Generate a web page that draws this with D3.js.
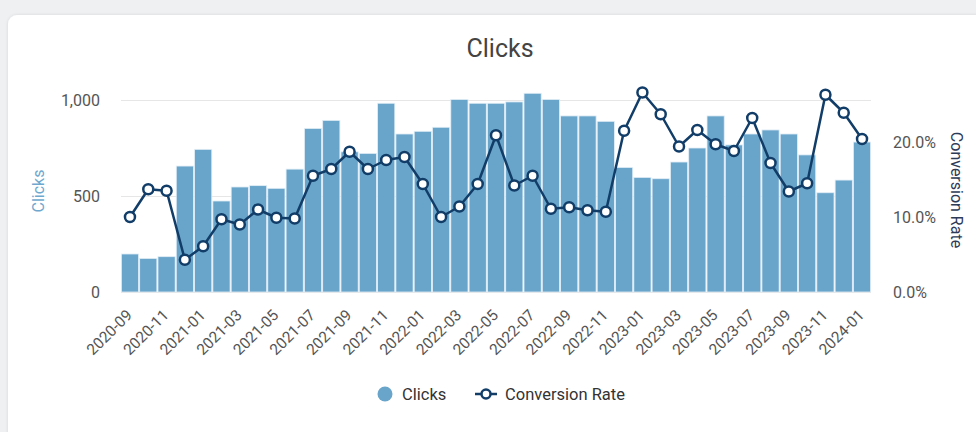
<!DOCTYPE html>
<html>
<head>
<meta charset="utf-8">
<script src="https://cdn.jsdelivr.net/npm/d3@7"></script>
<style>
  html, body { margin: 0; padding: 0; background: #eef0f2; }
  svg { display: block; font-family: Roboto, "Noto Sans", sans-serif; }
</style>
</head>
<body>
<svg id="chart" width="976" height="432"></svg>
<script>
const months = ["2020-09","2020-10","2020-11","2020-12","2021-01","2021-02","2021-03","2021-04","2021-05","2021-06","2021-07","2021-08","2021-09","2021-10","2021-11","2021-12","2022-01","2022-02","2022-03","2022-04","2022-05","2022-06","2022-07","2022-08","2022-09","2022-10","2022-11","2022-12","2023-01","2023-02","2023-03","2023-04","2023-05","2023-06","2023-07","2023-08","2023-09","2023-10","2023-11","2023-12","2024-01"];
const clicks = [198,175,184,656,743,474,547,554,540,640,852,894,730,722,983,823,837,858,1003,983,983,990,1035,1003,917,917,889,649,597,590,677,750,917,766,823,844,823,714,517,583,781];
const conversionRate = [10.0,13.7,13.5,4.3,6.1,9.7,9.0,11.0,9.9,9.8,15.5,16.4,18.7,16.4,17.6,18.0,14.4,10.0,11.4,14.4,20.9,14.2,15.5,11.1,11.3,10.9,10.7,21.5,26.6,23.7,19.4,21.6,19.7,18.8,23.2,17.2,13.4,14.5,26.3,23.9,20.4];
const clickTicks = [0, 500, 1000];
const rateTicks = [0, 10, 20];
const xTickLabels = months.filter((m, i) => i % 2 === 0);

const svg = d3.select("#chart");
const left = 121, right = 871, bottom = 292;

const barColor = "#69a5cb";
const lineColor = "#113d68";

// card
const defs = svg.append("defs");
const f = defs.append("filter").attr("id", "sh").attr("x", "-5%").attr("y", "-5%").attr("width", "110%").attr("height", "110%");
f.append("feDropShadow").attr("dx", 0).attr("dy", 0).attr("stdDeviation", 1.5).attr("flood-color", "#000").attr("flood-opacity", 0.12);
svg.append("rect").attr("x", 8).attr("y", 15).attr("width", 1010).attr("height", 440)
  .attr("rx", 9).attr("fill", "#fff").attr("filter", "url(#sh)");

const x = d3.scaleBand().domain(months).range([left, right]).paddingInner(0.06).paddingOuter(0.02);
const yL = d3.scaleLinear().domain([0, 1000]).range([bottom, 100]);
const yR = d3.scaleLinear().domain([0, 20]).range([bottom, 142]);

// title
svg.append("text").attr("x", 500).attr("y", 57).attr("text-anchor", "middle")
  .attr("font-size", 25).attr("fill", "#444").text("Clicks");

// grid
svg.append("g").selectAll("line").data(clickTicks).join("line")
  .attr("x1", left).attr("x2", right)
  .attr("y1", d => yL(d) + 0.5).attr("y2", d => yL(d) + 0.5)
  .attr("stroke", "#e6e6e6").attr("stroke-width", 1);

// left axis
const axL = svg.append("g").attr("transform", `translate(${left - 14},0)`)
  .call(d3.axisLeft(yL).tickValues(clickTicks).tickSize(0).tickFormat(d3.format(",")));
axL.select(".domain").remove();
axL.selectAll("text").attr("font-size", 16).attr("fill", "#555").attr("font-family", "Roboto").attr("dy", "0.35em").attr("x", -7);

// right axis
const axR = svg.append("g").attr("transform", `translate(${right + 16},0)`)
  .call(d3.axisRight(yR).tickValues(rateTicks).tickSize(0).tickFormat(d => d3.format(".1f")(d) + "%"));
axR.select(".domain").remove();
axR.selectAll("text").attr("font-size", 16).attr("fill", "#555").attr("font-family", "Roboto").attr("dy", "0.35em").attr("x", 6);

// axis titles
svg.append("text").attr("transform", "translate(44,191) rotate(-90)").attr("text-anchor", "middle")
  .attr("font-size", 16).attr("fill", "#6ea8cf").text("Clicks");
svg.append("text").attr("transform", "translate(951,190) rotate(90)").attr("text-anchor", "middle")
  .attr("font-size", 16).attr("fill", "#2e3b57").text("Conversion Rate");

// bars
svg.append("g").selectAll("rect").data(months).join("rect")
  .attr("x", d => x(d)).attr("width", x.bandwidth())
  .attr("y", (d, i) => yL(clicks[i])).attr("height", (d, i) => yL(0) - yL(clicks[i]))
  .attr("fill", barColor).attr("stroke", "#e3eef6").attr("stroke-width", 0.8);

// x axis labels
const axX = svg.append("g").attr("transform", `translate(0,${bottom})`)
  .call(d3.axisBottom(x).tickValues(xTickLabels).tickSize(0));
axX.select(".domain").remove();
axX.selectAll("text").attr("font-size", 15.5).attr("fill", "#555").attr("font-family", "Roboto")
  .attr("text-anchor", "end").attr("dy", 0)
  .attr("transform", "translate(1,22) rotate(-45)");

// line
const cx = d => x(d) + x.bandwidth() / 2;
const line = d3.line().x((d, i) => cx(months[i])).y(d => yR(d));
svg.append("path").datum(conversionRate).attr("d", line)
  .attr("fill", "none").attr("stroke", lineColor).attr("stroke-width", 2.5).attr("stroke-linejoin", "round");
svg.append("g").selectAll("circle").data(conversionRate).join("circle")
  .attr("cx", (d, i) => cx(months[i])).attr("cy", d => yR(d)).attr("r", 5)
  .attr("fill", "#fff").attr("stroke", lineColor).attr("stroke-width", 2.5);

// legend
const lg = svg.append("g");
lg.append("circle").attr("cx", 385).attr("cy", 394).attr("r", 7.5).attr("fill", barColor);
lg.append("text").attr("x", 402).attr("y", 394).attr("dy", "0.35em").attr("font-size", 16.5).attr("fill", "#333").text("Clicks");
lg.append("line").attr("x1", 475).attr("x2", 497).attr("y1", 394).attr("y2", 394).attr("stroke", lineColor).attr("stroke-width", 2.5);
lg.append("circle").attr("cx", 486).attr("cy", 394).attr("r", 4.5).attr("fill", "#fff").attr("stroke", lineColor).attr("stroke-width", 2.5);
lg.append("text").attr("x", 505).attr("y", 394).attr("dy", "0.35em").attr("font-size", 16.5).attr("fill", "#333").text("Conversion Rate");
</script>
</body>
</html>
